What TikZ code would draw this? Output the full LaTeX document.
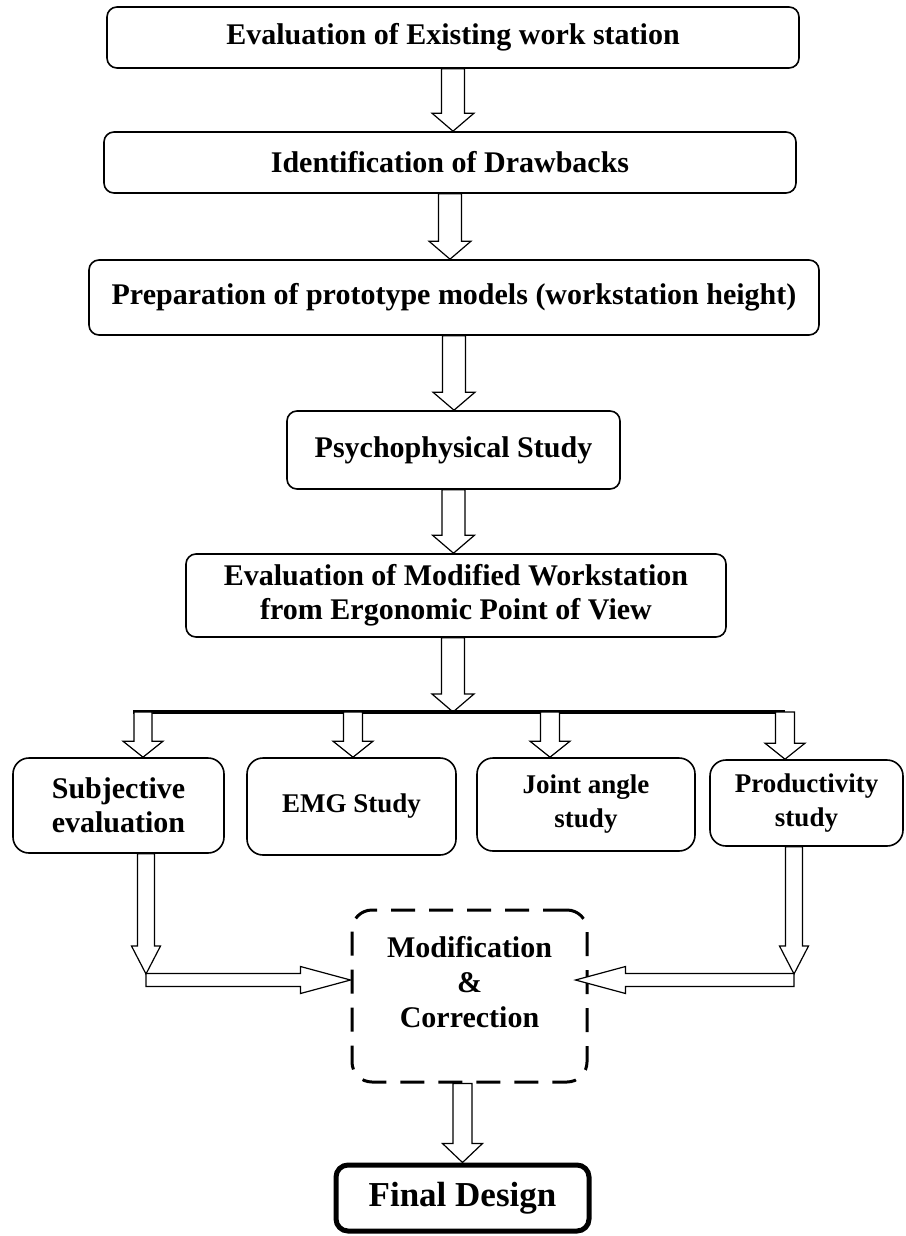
\documentclass[tikz,border=0pt]{standalone}
\usepackage{fontspec}
\setmainfont{Liberation Serif}
\usetikzlibrary{calc, positioning}

% hollow block arrows: #1 from, #2 to, #3 half shaft, #4 half head, #5 head length
\newcommand{\fatdown}[5]{%
  \draw[fatarrow] let \p1=#1, \p2=#2 in
    (\x1-#3,\y1) -- (\x1+#3,\y1) -- (\x1+#3,\y2+#5) -- (\x1+#4,\y2+#5)
    -- (\x1,\y2) -- (\x1-#4,\y2+#5) -- (\x1-#3,\y2+#5) -- cycle;}
\newcommand{\fatside}[5]{%
  \draw[fatarrow] let \p1=#1, \p2=#2, \n1={sign(\x2-\x1)} in
    (\x1,\y1+#3) -- (\x2-\n1*#5,\y1+#3) -- (\x2-\n1*#5,\y1+#4) -- (\x2,\y1)
    -- (\x2-\n1*#5,\y1-#4) -- (\x2-\n1*#5,\y1-#3) -- (\x1,\y1-#3) -- cycle;}

\begin{document}
\begin{tikzpicture}[x=0.5pt, y=-0.5pt,
    stagebox/.style={draw, line width=0.8pt, rounded corners=5pt, inner sep=0pt,
      align=center, font=\fontsize{15}{17}\selectfont\bfseries},
    studybox/.style={stagebox, rounded corners=8pt, font=\fontsize{13.5}{17}\selectfont\bfseries},
    fatarrow/.style={draw, fill=white, line width=0.6pt, line join=miter},
    bus/.style={line width=1.6pt}
  ]
  \useasboundingbox (0,0) rectangle (905,1236);

  % main chain
  \node[stagebox, minimum width=346pt, minimum height=30.5pt] (exist) at (453,37.5)
    {Evaluation of Existing work station};
  \node[stagebox, minimum width=346pt, minimum height=30.5pt] (drawbk) at (450,162.5)
    {Identification of Drawbacks};
  \node[stagebox, minimum width=365pt, minimum height=37.5pt] (proto) at (454,297.5)
    {Preparation of prototype models (workstation height)};
  \node[stagebox, minimum width=166.5pt, minimum height=39pt] (psych) at (453.5,450)
    {Psychophysical Study};
  \node[stagebox, minimum width=270pt, minimum height=41.5pt] (evalmod) at (456,595.5)
    {Evaluation of Modified Workstation\\from Ergonomic Point of View};

  \fatdown{(exist.south)}{(exist.south |- drawbk.north)}{5.75pt}{10.5pt}{9pt}
  \fatdown{(drawbk.south)}{(drawbk.south |- proto.north)}{5.75pt}{10.5pt}{9pt}
  \fatdown{(proto.south)}{(proto.south |- psych.north)}{5.75pt}{10.5pt}{9pt}
  \fatdown{(psych.south)}{(psych.south |- evalmod.north)}{5.75pt}{10.5pt}{9pt}

  % branch
  \coordinate (hub) at (453,712);
  \coordinate (b1) at (143,712);
  \coordinate (b2) at (353,712);
  \coordinate (b3) at (550,712);
  \coordinate (b4) at (785,712);
  \fatdown{(evalmod.south -| hub)}{(hub)}{5.75pt}{10.5pt}{9pt}
  \draw[bus] ([xshift=-5pt]b1) -- (b4);

  % studies
  \node[studybox, font=\fontsize{15}{17}\selectfont\bfseries,
        minimum width=105.5pt, minimum height=47.5pt] (subj) at (118.5,805.5)
    {Subjective\\evaluation};
  \node[studybox, minimum width=104.5pt, minimum height=48.5pt] (emg) at (351.5,806.5)
    {EMG Study};
  \node[studybox, minimum width=109pt, minimum height=46.5pt] (joint) at (586,804.5)
    {Joint angle\\study};
  \node[studybox, minimum width=96.5pt, minimum height=43pt] (prod) at (806.5,803)
    {Productivity\\study};

  \fatdown{(b1)}{(b1 |- subj.north)}{4.5pt}{10pt}{8pt}
  \fatdown{(b2)}{(b2 |- emg.north)}{4.75pt}{10pt}{8pt}
  \fatdown{(b3)}{(b3 |- joint.north)}{4.75pt}{10pt}{8pt}
  \fatdown{(b4)}{(b4 |- prod.north)}{4.75pt}{10pt}{8pt}

  % modification
  \node[draw, line width=1.5pt, dash pattern=on 12pt off 7pt, rounded corners=10pt,
        minimum width=117.5pt, minimum height=86pt] (modbox) at (469.5,996) {};
  \node[align=center, font=\fontsize{15}{17.5}\selectfont\bfseries] (modtext) at (469.5,982)
    {Modification\\\&\\Correction};

  \coordinate (lt) at (146,974);
  \coordinate (lh) at (146,980);
  \coordinate (rt) at (794,974);
  \coordinate (rh) at (794,980);
  \fatdown{(subj.south -| lt)}{(lt)}{4.25pt}{7.25pt}{14pt}
  \fatside{(lh)}{(modbox.west |- lh)}{3.25pt}{6.75pt}{25pt}
  \fatdown{(prod.south -| rt)}{(rt)}{4.25pt}{7.25pt}{14pt}
  \fatside{(rh)}{($(modbox.east |- rh)+(-13,0)$)}{3.25pt}{6.75pt}{25pt}

  % result
  \node[draw, line width=2.5pt, rounded corners=6pt, inner sep=0pt,
        minimum width=126.5pt, minimum height=33pt,
        font=\fontsize{17.5}{20}\selectfont\bfseries] (final) at (462.5,1198) {Final Design};
  \fatdown{(final.north |- modbox.south)}{(final.north)}{4.75pt}{10pt}{9.5pt}
\end{tikzpicture}
\end{document}
